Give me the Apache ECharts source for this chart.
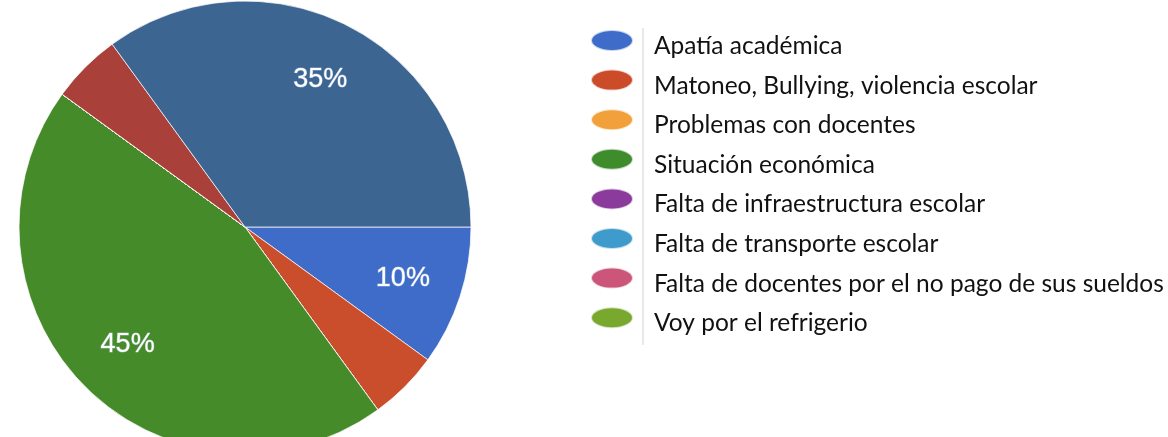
<!DOCTYPE html>
<html>
<head>
<meta charset="utf-8">
<script src="https://cdn.jsdelivr.net/npm/echarts@6/dist/echarts.min.js"></script>
<style>
  html, body { margin: 0; padding: 0; background: #fff; }
  #chart { width: 1168px; height: 437px; }
</style>
</head>
<body>
<div id="chart"></div>
<script>
// categories and values, clockwise from 3 o'clock
const categories = [
  'Apatía académica',
  'Matoneo, Bullying, violencia escolar',
  'Problemas con docentes',
  'Situación económica',
  'Falta de infraestructura escolar',
  'Falta de transporte escolar',
  'Falta de docentes por el no pago de sus sueldos',
  'Voy por el refrigerio',
  'Categoría 9',
  'Categoría 10'
]
const values = [10, 5, 0, 45, 0, 0, 0, 0, 5, 35]
const sliceColors = ['#3e6cc8', '#cb4e2c', '#f2a13b', '#468b2a', '#8a3b9b', '#3f9bcc', '#cc5679', '#79a82f', '#a9403a', '#3d6591']
const legendColors = ['#3e6cc8', '#cc4c2a', '#f2a03a', '#3f8c2d', '#8a3b9b', '#3f9bcc', '#cc5679', '#79a82f']

const chart = echarts.init(document.getElementById('chart'))

const pieData = categories.map((name, i) => ({
  name,
  value: values[i],
  itemStyle: { color: sliceColors[i] }
}))

const option = {
  animation: false,
  legend: {
    orient: 'vertical',
    left: 585,
    top: 24,
    data: categories.slice(0, 8).map((name, i) => ({
      name,
      itemStyle: { color: legendColors[i] }
    })),
    icon: 'path://M0,10 A20,10 0 1,1 40,10 A20,10 0 1,1 0,10 Z',
    itemWidth: 42,
    itemHeight: 21,
    itemGap: 10.1,
    selectedMode: false,
    // spacer token pushes the text right and a little below the marker
    formatter: name => '{s|}{t|' + name + '}',
    textStyle: {
      color: '#111',
      rich: {
        s: { width: 16, height: 36 },
        t: {
          fontFamily: 'Lato',
          fontSize: 24.5,
          lineHeight: 24,
          color: '#111',
          verticalAlign: 'bottom'
        }
      }
    }
  },
  graphic: [{
    type: 'line',
    shape: { x1: 643, y1: 28, x2: 643, y2: 345 },
    style: { stroke: '#e2e2e2', lineWidth: 1.5 }
  }],
  series: [
    {
      type: 'pie',
      center: [245, 227],
      radius: [0, 226],
      startAngle: 0,
      clockwise: true,
      silent: true,
      label: { show: false },
      labelLine: { show: false },
      itemStyle: { borderColor: 'rgba(255,255,255,0.7)', borderWidth: 1 },
      data: pieData
    },
    {
      // label layer at ~0.72 of the radius
      type: 'pie',
      center: [245, 227],
      radius: [100, 226],
      startAngle: 0,
      clockwise: true,
      silent: true,
      itemStyle: { color: 'rgba(0,0,0,0)' },
      labelLine: { show: false },
      label: {
        show: true,
        position: 'inside',
        formatter: p => (p.value >= 10 ? p.value + '%' : ''),
        fontFamily: 'Liberation Sans',
        fontSize: 27,
        color: '#fff',
        textBorderColor: 'rgba(190,210,235,0.6)',
        textBorderWidth: 1
      },
      data: categories.map((name, i) => ({ name, value: values[i] }))
    }
  ]
}

chart.setOption(option)
window.addEventListener('resize', () => chart.resize())
</script>
</body>
</html>
